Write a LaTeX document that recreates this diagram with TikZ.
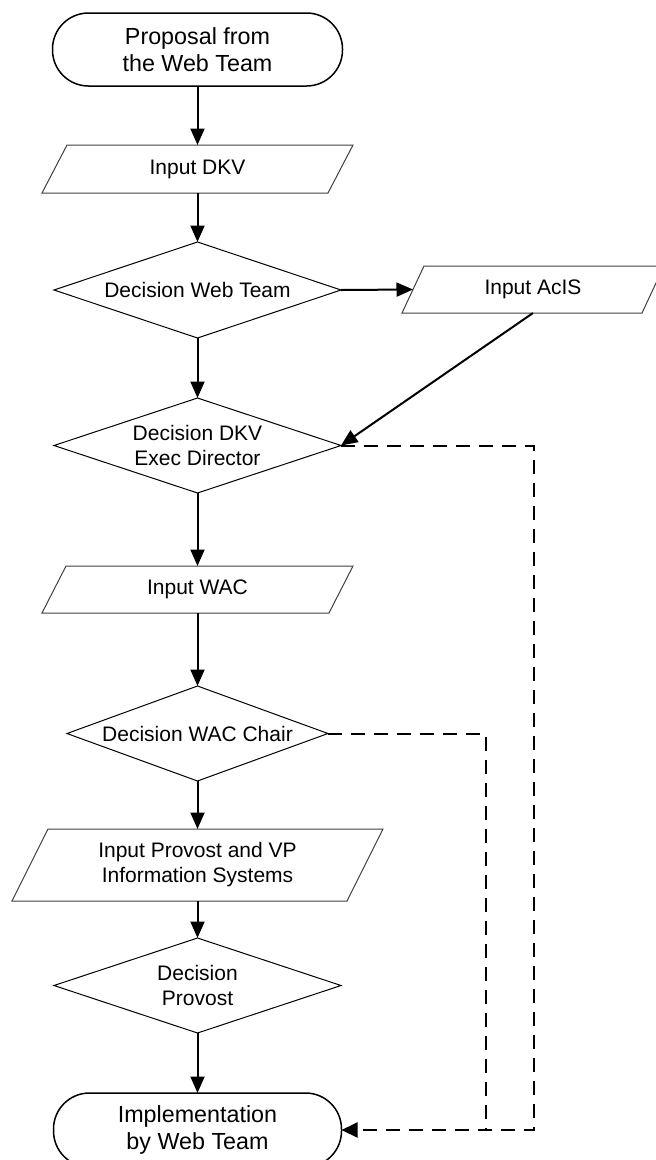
\documentclass[tikz,border=0pt]{standalone}
\usepackage{fontspec}
\setmainfont{Liberation Sans}
\usetikzlibrary{arrows.meta,calc}

% text sizes for the ordinary boxes and the two end terminals
\newcommand\boxtxt{\fontsize{21}{25}\selectfont}
\newcommand\termtxt{\fontsize{23.3}{27.5}\selectfont}

\tikzset{
  holder/.style={rectangle, inner sep=0pt, outer sep=0pt, align=center, font=\boxtxt},
  term/.style={holder, draw, line width=1.5pt, rounded corners=36pt,
               minimum width=290pt, minimum height=73pt, font=\termtxt},
  outline/.style={line width=1pt, line join=miter},
  slantline/.style={line width=1pt, draw=black!75},
  flow/.style={line width=2pt, -{Triangle[length=16.5pt,width=14pt]}},
  back/.style={line width=2pt, dash pattern=on 14pt off 9pt},
  backarrow/.style={back, -{Triangle[length=16pt,width=15pt]}}
}

\begin{document}
\begin{tikzpicture}[x=1pt,y=-1pt]
  \clip (0,0) rectangle (656,1160);
  \fill[white] (0,0) rectangle (656,1160);

  % terminals
  \node[term] (start) at (197.5,49.5) {Proposal from\\the Web Team};
  \node[term, minimum width=288pt, minimum height=74pt] (impl) at (197.5,1130) {Implementation\\by Web Team};

  % input (parallelogram) holders
  \node[holder, minimum width=311pt, minimum height=48pt] (inDKV)  at (197.5,169)   {Input DKV};
  \node[holder, minimum width=262pt, minimum height=47pt] (inAcIS) at (533,289.5)   {Input AcIS};
  \node[holder, minimum width=311pt, minimum height=47pt] (inWAC)  at (197.5,589.5) {Input WAC};
  \node[holder, minimum width=371pt, minimum height=72pt] (inProv) at (197.5,865)   {Input Provost and VP\\Information Systems};

  % decision (diamond) holders
  \node[holder, minimum width=287pt, minimum height=96pt] (decWeb)  at (197.5,290)   {Decision Web Team};
  \node[holder, minimum width=287pt, minimum height=95pt] (decDKV)  at (197.5,445.5) {Decision DKV\\Exec Director};
  \node[holder, minimum width=261pt, minimum height=95pt] (decWAC)  at (197.5,733.5) {Decision WAC Chair};
  \node[holder, minimum width=287pt, minimum height=95pt] (decProv) at (197.5,985.5) {Decision\\Provost};

  % parallelogram outlines
  \foreach \nm/\sl in {inDKV/25, inAcIS/22, inWAC/24, inProv/36}
    \draw[slantline] ($(\nm.north west)+(\sl,0)$) -- (\nm.north east)
      -- ($(\nm.south east)-(\sl,0)$) -- (\nm.south west) -- cycle;

  % diamond outlines
  \foreach \nm in {decWeb, decDKV, decWAC, decProv}
    \draw[outline] (\nm.north) -- (\nm.east) -- (\nm.south) -- (\nm.west) -- cycle;

  % entry point on the left slanted side of Input AcIS
  \coordinate (acisIn) at ($(inAcIS.west)+(11,0)$);

  % main flow
  \draw[flow] (start.south)  -- (inDKV.north);
  \draw[flow] (inDKV.south)  -- (decWeb.north);
  \draw[flow] (decWeb.east)  -- (acisIn);
  \draw[flow] (decWeb.south) -- (decDKV.north);
  \draw[flow] (inAcIS.south) -- (decDKV.east);
  \draw[flow] (decDKV.south) -- (inWAC.north);
  \draw[flow] (inWAC.south)  -- (decWAC.north);
  \draw[flow] (decWAC.south) -- (inProv.north);
  \draw[flow] (inProv.south) -- (decProv.north);
  \draw[flow] (decProv.south) -- (impl.north);

  % dashed shortcuts to implementation
  \coordinate (colA) at (534,1130);
  \coordinate (colB) at (486,1130);
  \draw[backarrow] (decDKV.east) -| (colA) -- (impl.east);
  \draw[back] (decWAC.east) -| (colB);
\end{tikzpicture}
\end{document}
